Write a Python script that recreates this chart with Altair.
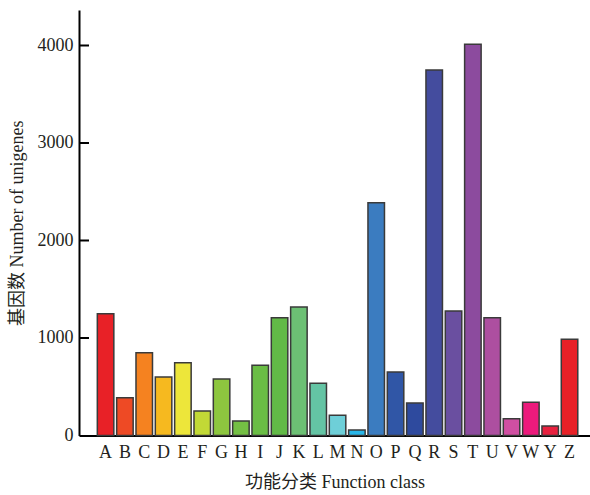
import altair as alt
import pandas as pd

# COG function classes and unigene counts
classes = ["A", "B", "C", "D", "E", "F", "G", "H", "I", "J", "K", "L", "M",
           "N", "O", "P", "Q", "R", "S", "T", "U", "V", "W", "Y", "Z"]
counts = [1249, 388, 849, 600, 747, 251, 579, 149, 720, 1208, 1318, 535, 207,
          56, 2388, 651, 333, 3749, 1277, 4012, 1208, 172, 340, 97, 987]
colors = ["#e82127", "#ee4a25", "#f58220", "#f6b91f", "#ede63a", "#c2d936",
          "#8dc63f", "#74bf44", "#6abd45", "#62ba47", "#6cc074", "#64c4a4",
          "#6ecfd8", "#29b6e8", "#3b7cc0", "#3056a6", "#2e4a9e", "#444c9e",
          "#6a4fa0", "#8c4b9e", "#ad4fa0", "#d04fa2", "#ec1a7c", "#e8213f",
          "#e82127"]
y_ticks = [1000, 2000, 3000, 4000]

FONT = "Liberation Serif, Times New Roman, Noto Sans CJK SC"
W, H = 511, 425.5

bars_df = pd.DataFrame({"cls": classes, "n": counts})
ticks_df = pd.DataFrame({"v": y_ticks})

y_scale = alt.Scale(domain=[0, 4364], nice=False, zero=True)

bars = alt.Chart(bars_df).mark_bar(
    stroke="#3a3a3a", strokeWidth=1.5
).encode(
    x=alt.X("cls:N", sort=classes,
            scale=alt.Scale(paddingInner=0.146, paddingOuter=0.79, align=0.6),
            axis=alt.Axis(title="功能分类 Function class", labelAngle=0,
                          ticks=False, tickSize=0, labelPadding=8,
                          titleX=W / 2, titleY=47, titleBaseline="middle")),
    y=alt.Y("n:Q", scale=y_scale,
            axis=alt.Axis(title="基因数 Number of unigenes", values=[0, 1000, 2000, 3000, 4000],
                          format="d", ticks=False, tickSize=0, labelPadding=6, grid=False,
                          titleX=-62, titleY=H / 2, titleBaseline="middle",
                          titleAngle=-90)),
    color=alt.Color("cls:N", scale=alt.Scale(domain=classes, range=colors), legend=None),
)

# inward-pointing y ticks
inner_ticks = alt.Chart(ticks_df).mark_rule(color="black", strokeWidth=2).encode(
    y=alt.Y("v:Q", scale=y_scale),
    x=alt.value(0),
    x2=alt.value(10),
)

chart = alt.layer(bars, inner_ticks).properties(
    width=W, height=H,
    autosize=alt.AutoSizeParams(type="none"),
    padding={"left": 79, "top": 10, "right": 0, "bottom": 59.5},
).configure_view(
    stroke=None
).configure_axis(
    domainColor="black", domainWidth=2,
    labelFont=FONT, labelFontSize=18, labelColor="#231f20",
    titleFont=FONT, titleFontSize=18, titleFontWeight="normal", titleColor="#231f20",
)

chart.save("out.html", embed_options={"renderer": "svg", "actions": False})
